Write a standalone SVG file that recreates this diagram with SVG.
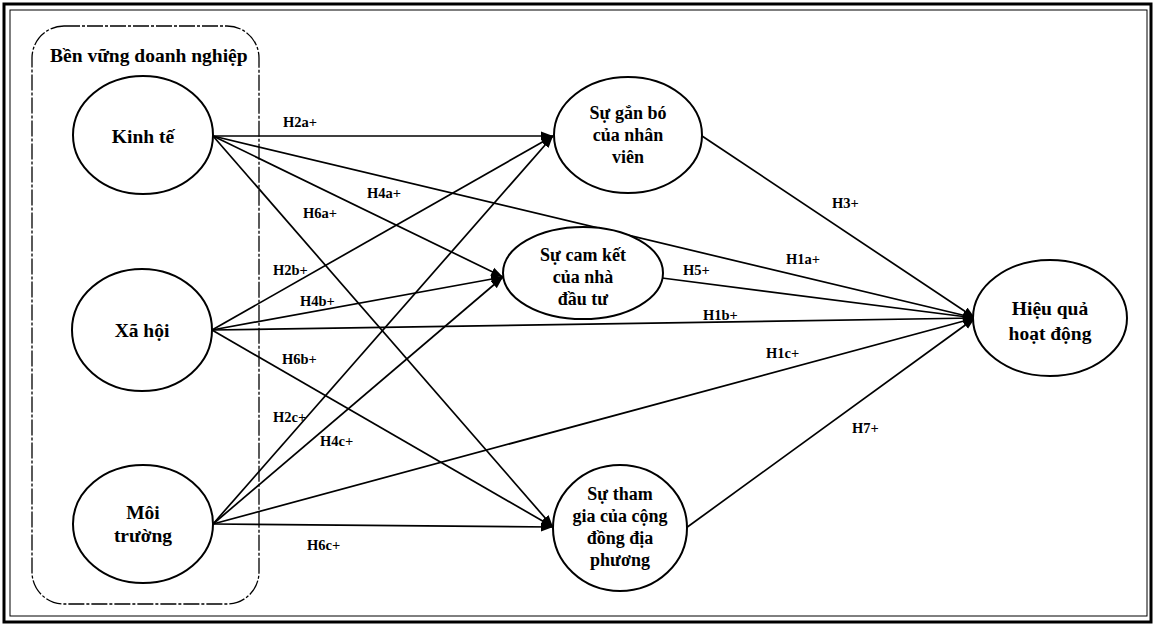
<svg xmlns="http://www.w3.org/2000/svg" width="1157" height="626" viewBox="0 0 1157 626">
<style>
.node{fill:#fff;stroke:#000;stroke-width:2}
.nt{font-family:"Liberation Serif","Times New Roman",serif;font-weight:bold;font-size:18px;fill:#000;text-anchor:middle}
.big{font-size:19.5px}
.lb{font-family:"Liberation Serif","Times New Roman",serif;font-weight:bold;font-size:14.5px;fill:#000}
.cn{stroke:#000;stroke-width:1.7;fill:none;marker-end:url(#ah)}
</style>
<defs>
<marker id="ah" markerUnits="userSpaceOnUse" markerWidth="14" markerHeight="10" refX="12" refY="5" orient="auto">
<path d="M0,0.5 L12,5 L0,9.5 Z" fill="#000"/>
</marker>
</defs>
<rect x="0" y="0" width="1157" height="626" fill="#fff"/>
<rect x="4" y="4" width="1147" height="618" fill="none" stroke="#000" stroke-width="3"/>
<rect x="10" y="10" width="1137" height="606" fill="none" stroke="#000" stroke-width="1"/>
<g id="group-ben-vung">
<rect x="32" y="26" width="227" height="578" rx="32" ry="32" fill="none" stroke="#000" stroke-width="1.3" stroke-dasharray="16 2 3 2"/>
<text class="nt" x="50" y="62" style="text-anchor:start;font-size:19.5px">Bền vững doanh nghiệp</text>
</g>
<g id="connectors">
<line class="cn" x1="213" y1="136" x2="553" y2="136"/>
<line class="cn" x1="213" y1="136" x2="503" y2="277"/>
<line class="cn" x1="213" y1="136" x2="553" y2="527"/>
<line class="cn" x1="213" y1="136" x2="975" y2="318"/>
<line class="cn" x1="212" y1="330" x2="553" y2="136"/>
<line class="cn" x1="212" y1="330" x2="503" y2="277"/>
<line class="cn" x1="212" y1="330" x2="975" y2="318"/>
<line class="cn" x1="212" y1="330" x2="553" y2="527"/>
<line class="cn" x1="213" y1="524" x2="553" y2="136"/>
<line class="cn" x1="213" y1="524" x2="503" y2="277"/>
<line class="cn" x1="213" y1="524" x2="975" y2="318"/>
<line class="cn" x1="213" y1="524" x2="553" y2="527"/>
<line class="cn" x1="702" y1="136" x2="975" y2="318"/>
<line class="cn" x1="662" y1="278" x2="975" y2="318"/>
<line class="cn" x1="686" y1="528" x2="975" y2="318"/>
<text class="lb" x="283" y="127">H2a+</text>
<text class="lb" x="367" y="198">H4a+</text>
<text class="lb" x="303" y="218">H6a+</text>
<text class="lb" x="273" y="275">H2b+</text>
<text class="lb" x="300" y="306">H4b+</text>
<text class="lb" x="282" y="364">H6b+</text>
<text class="lb" x="273" y="422">H2c+</text>
<text class="lb" x="320" y="446">H4c+</text>
<text class="lb" x="307" y="550">H6c+</text>
<text class="lb" x="683" y="275">H5+</text>
<text class="lb" x="703" y="320">H1b+</text>
<text class="lb" x="832" y="208">H3+</text>
<text class="lb" x="786" y="264">H1a+</text>
<text class="lb" x="766" y="358">H1c+</text>
<text class="lb" x="852" y="433">H7+</text>
</g>
<g id="kinh-te">
<ellipse class="node" cx="143" cy="135" rx="70" ry="59"/>
<text class="nt big" x="143" y="143">Kinh tế</text>
</g>
<g id="xa-hoi">
<ellipse class="node" cx="142" cy="330" rx="70" ry="61"/>
<text class="nt big" x="142" y="337">Xã hội</text>
</g>
<g id="moi-truong">
<ellipse class="node" cx="143" cy="524" rx="70" ry="59"/>
<text class="nt big" x="143" y="519">Môi</text>
<text class="nt big" x="143" y="542">trường</text>
</g>
<g id="gan-bo">
<ellipse class="node" cx="628" cy="135" rx="74" ry="58"/>
<text class="nt" x="628" y="119">Sự gắn bó</text>
<text class="nt" x="628" y="141">của nhân</text>
<text class="nt" x="628" y="163">viên</text>
</g>
<g id="cam-ket">
<ellipse class="node" cx="583" cy="273" rx="80" ry="46"/>
<text class="nt" x="583" y="261">Sự cam kết</text>
<text class="nt" x="583" y="283">của nhà</text>
<text class="nt" x="583" y="305">đầu tư</text>
</g>
<g id="tham-gia">
<ellipse class="node" cx="620" cy="528" rx="67" ry="63"/>
<text class="nt" x="620" y="500">Sự tham</text>
<text class="nt" x="620" y="522">gia của cộng</text>
<text class="nt" x="620" y="544">đồng địa</text>
<text class="nt" x="620" y="566">phương</text>
</g>
<g id="hieu-qua">
<ellipse class="node" cx="1050" cy="318" rx="77" ry="58"/>
<text class="nt big" x="1050" y="315">Hiệu quả</text>
<text class="nt big" x="1050" y="340">hoạt động</text>
</g>
</svg>
